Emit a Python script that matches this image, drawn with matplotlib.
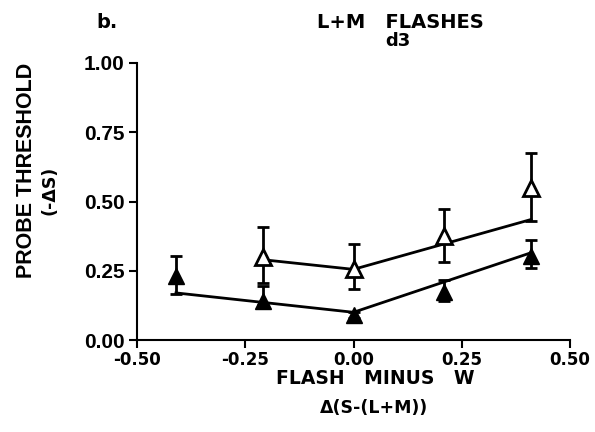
import matplotlib
matplotlib.use("Agg")
import matplotlib.pyplot as plt

# ---- data ----
x_filled = [-0.41, -0.21, 0.00, 0.21, 0.41]
y_filled = [0.23, 0.14, 0.09, 0.175, 0.305]
err_filled_lo = [0.065, 0.015, 0.01, 0.035, 0.045]
err_filled_hi = [0.075, 0.055, 0.01, 0.04, 0.055]

x_open = [-0.21, 0.00, 0.21, 0.41]
y_open = [0.30, 0.255, 0.375, 0.55]
err_open_lo = [0.095, 0.07, 0.095, 0.12]
err_open_hi = [0.108, 0.092, 0.098, 0.125]

fit_lo_x = [-0.41, 0.00, 0.41]
fit_lo_y = [0.17, 0.10, 0.315]
fit_up_x = [-0.21, 0.00, 0.41]
fit_up_y = [0.29, 0.255, 0.435]

xticks = [-0.50, -0.25, 0.00, 0.25, 0.50]
yticks = [0.00, 0.25, 0.50, 0.75, 1.00]

W, H = 595, 432
fig = plt.figure(figsize=(W / 100, H / 100), dpi=100)
ax = fig.add_axes([137 / W, 1 - 340 / H, (570 - 137) / W, (340 - 63) / H])

lw = 2.0
ax.plot(fit_lo_x, fit_lo_y, color="black", lw=lw, zorder=2)
ax.plot(fit_up_x, fit_up_y, color="black", lw=lw, zorder=2)

ax.errorbar(x_filled, y_filled, yerr=[err_filled_lo, err_filled_hi], fmt="^",
            color="black", mfc="black", mec="black", ms=11, elinewidth=2,
            capsize=4, capthick=2, zorder=3)
ax.errorbar(x_open, y_open, yerr=[err_open_lo, err_open_hi], fmt="^",
            color="black", mfc="white", mec="black", mew=2, ms=11, elinewidth=2,
            capsize=4, capthick=2, zorder=4)

ax.set_xlim(-0.5, 0.5)
ax.set_ylim(0, 1.0)
ax.set_xticks(xticks)
ax.set_yticks(yticks)
ax.set_xticklabels([f"{v:.2f}" for v in xticks], fontfamily="DejaVu Sans",
                   fontweight="bold", fontsize=12)
ax.set_yticklabels([f"{v:.2f}" for v in yticks], fontfamily="Liberation Sans",
                   fontweight="bold", fontsize=15)
ax.tick_params(axis="both", direction="out", length=6, width=1.5, pad=3)
ax.tick_params(axis="x", pad=2)
for s in ["top", "right"]:
    ax.spines[s].set_visible(False)
for s in ["left", "bottom"]:
    ax.spines[s].set_linewidth(1.5)

def ftxt(x, y, s, **kw):
    fig.text(x / W, 1 - y / H, s, ha="center", va="center", fontweight="bold", **kw)

ftxt(107, 22, "b.", fontfamily="DejaVu Sans", fontsize=14)
ftxt(400, 22, "L+M   FLASHES", fontfamily="DejaVu Sans", fontsize=14)
ftxt(398, 41, "d3", fontfamily="DejaVu Sans", fontsize=13)
ftxt(375, 379, "FLASH   MINUS   W", fontfamily="DejaVu Sans", fontsize=13.5)
ftxt(374, 408, "\u0394(S-(L+M))", fontfamily="DejaVu Sans", fontsize=12.5)
ftxt(27, 170, "PROBE THRESHOLD", fontfamily="Liberation Sans", fontsize=15.5, rotation=90)
ftxt(49, 190, "(-\u0394S)", fontfamily="DejaVu Sans", fontsize=12.5, rotation=90)

fig.savefig("out.png", dpi=100)
